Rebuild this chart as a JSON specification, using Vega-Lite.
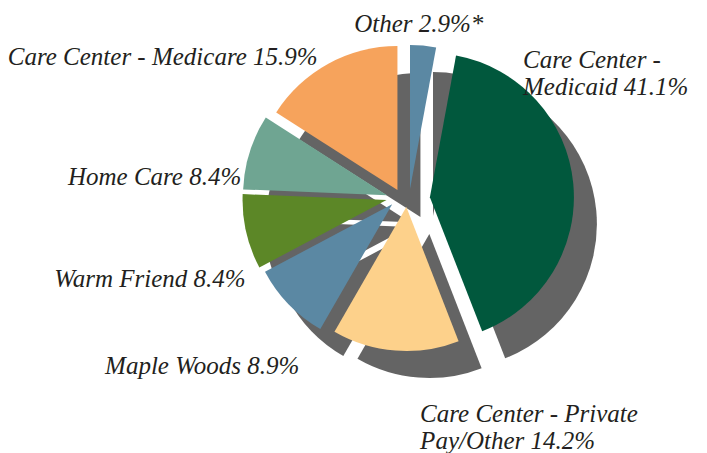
{
  "$schema": "https://vega.github.io/schema/vega-lite/v6.json",
  "width": 707,
  "height": 453,
  "autosize": {"type": "none"},
  "padding": 0,
  "background": "white",
  "config": {"view": {"stroke": null}},
  "data": {"values": [
    {"order": 1, "category": "Other", "value": 2.9, "label": "Other 2.9%*"},
    {"order": 2, "category": "Care Center - Medicaid", "value": 41.1, "label": "Care Center -\nMedicaid 41.1%"},
    {"order": 3, "category": "Care Center - Private Pay/Other", "value": 14.2, "label": "Care Center - Private\nPay/Other 14.2%"},
    {"order": 4, "category": "Maple Woods", "value": 8.9, "label": "Maple Woods 8.9%"},
    {"order": 5, "category": "Warm Friend", "value": 8.4, "label": "Warm Friend 8.4%"},
    {"order": 6, "category": "Home Care", "value": 8.4, "label": "Home Care 8.4%"},
    {"order": 7, "category": "Care Center - Medicare", "value": 15.9, "label": "Care Center - Medicare 15.9%"}
  ]},
  "transform": [
    {"joinaggregate": [{"op": "sum", "field": "value", "as": "total"}]},
    {"window": [{"op": "sum", "field": "value", "as": "cum"}], "sort": [{"field": "order"}], "frame": [null, 0]},
    {"calculate": "2*PI*(datum.cum-datum.value)/datum.total", "as": "start"},
    {"calculate": "2*PI*datum.cum/datum.total", "as": "end"},
    {"calculate": "(datum.start+datum.end)/2", "as": "mid"},
    {"calculate": "22*sin(datum.mid)", "as": "ex"},
    {"calculate": "9*cos(datum.mid)", "as": "ey"},
    {"calculate": "datum.start+min((datum.end-datum.start)/2,PI/6)-PI/36", "as": "phi"},
    {"calculate": "181*sin(datum.phi)", "as": "lx"},
    {"calculate": "195*cos(datum.phi)", "as": "ly"}
  ],
  "layer": [
    {
      "mark": {"type": "arc", "radius": 144, "color": "#646464", "xOffset": 23, "yOffset": 27},
      "encoding": {
        "x": {"field": "ex", "type": "quantitative", "scale": {"domain": [-408, 299], "nice": false, "zero": false}, "axis": null},
        "y": {"field": "ey", "type": "quantitative", "scale": {"domain": [-255, 198], "nice": false, "zero": false}, "axis": null},
        "theta": {"field": "start", "type": "quantitative", "scale": null, "stack": null},
        "theta2": {"field": "end"}
      }
    },
    {
      "mark": {"type": "arc", "radius": 144},
      "encoding": {
        "x": {"field": "ex", "type": "quantitative", "axis": null},
        "y": {"field": "ey", "type": "quantitative", "axis": null},
        "theta": {"field": "start", "type": "quantitative", "scale": null, "stack": null},
        "theta2": {"field": "end"},
        "color": {
          "field": "category", "type": "nominal", "legend": null,
          "scale": {
            "domain": ["Other", "Care Center - Medicaid", "Care Center - Private Pay/Other", "Maple Woods", "Warm Friend", "Home Care", "Care Center - Medicare"],
            "range": ["#5B88A3", "#01583D", "#FDD18B", "#5B88A3", "#5C8727", "#6FA592", "#F6A35C"]
          }
        }
      }
    },
    {
      "transform": [{"filter": "sin(datum.phi) < -0.1"}],
      "mark": {"type": "text", "align": "right", "baseline": "middle", "dx": 10, "dy": 21, "font": "Liberation Serif", "fontStyle": "italic", "fontSize": 25, "color": "#231F20", "lineBreak": "\n", "lineHeight": 27},
      "encoding": {
        "x": {"field": "lx", "type": "quantitative", "axis": null},
        "y": {"field": "ly", "type": "quantitative", "axis": null},
        "text": {"field": "label"}
      }
    },
    {
      "transform": [{"filter": "sin(datum.phi) >= -0.1 && !(cos(datum.phi) > 0.9 && abs(sin(datum.phi)) < 0.1)"}],
      "mark": {"type": "text", "align": "left", "baseline": "middle", "dx": 10, "dy": 21, "font": "Liberation Serif", "fontStyle": "italic", "fontSize": 25, "color": "#231F20", "lineBreak": "\n", "lineHeight": 27},
      "encoding": {
        "x": {"field": "lx", "type": "quantitative", "axis": null},
        "y": {"field": "ly", "type": "quantitative", "axis": null},
        "text": {"field": "label"}
      }
    },
    {
      "transform": [{"filter": "cos(datum.phi) > 0.9 && abs(sin(datum.phi)) < 0.1"}],
      "mark": {"type": "text", "align": "center", "baseline": "middle", "dx": 10, "dy": 21, "font": "Liberation Serif", "fontStyle": "italic", "fontSize": 25, "color": "#231F20", "lineBreak": "\n", "lineHeight": 27},
      "encoding": {
        "x": {"field": "lx", "type": "quantitative", "axis": null},
        "y": {"field": "ly", "type": "quantitative", "axis": null},
        "text": {"field": "label"}
      }
    }
  ]
}
